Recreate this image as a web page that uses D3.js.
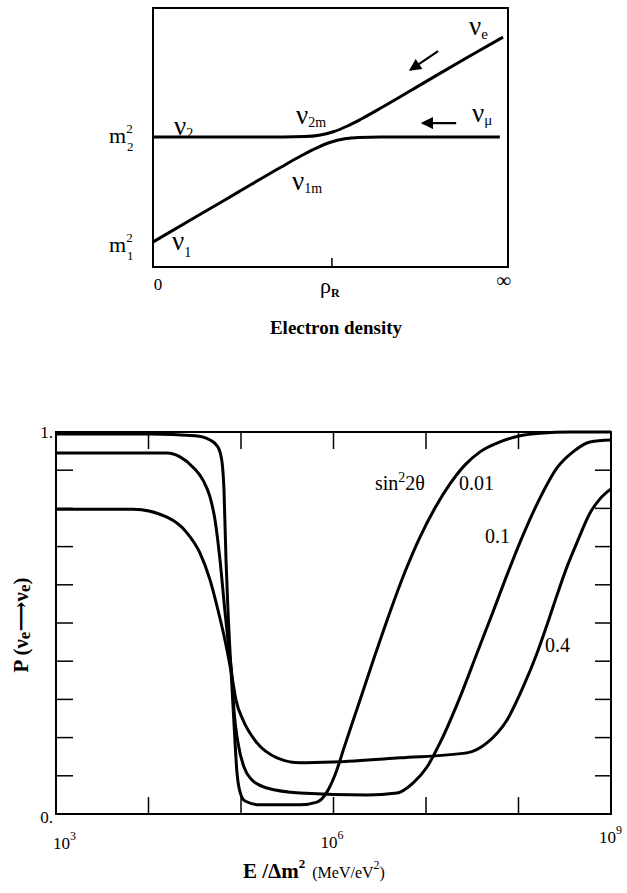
<!DOCTYPE html>
<html><head><meta charset="utf-8">
<script src="https://cdn.jsdelivr.net/npm/d3@7"></script>
<style>
body{margin:0;background:#fff}
svg{display:block}
svg text{font-family:"Liberation Serif","DejaVu Serif",serif;fill:#000}
</style>
</head><body>
<svg id="c" width="627" height="893" font-family="Liberation Serif, DejaVu Serif, serif"></svg>
<script>
// ---------- Top panel: level crossing (schematic) ----------
const densityLower = [0, 0.12, 0.24, 0.36, 0.42, 0.46, 0.50, 0.54, 0.58, 0.64, 0.70, 0.977];
const massLower    = [0, 0.238, 0.475, 0.712, 0.826, 0.895, 0.950, 0.983, 0.996, 1.0, 1.0, 1.0];
const densityUpper = [0, 0.30, 0.368, 0.428, 0.468, 0.508, 0.548, 0.588, 0.648, 0.77, 0.89, 0.986];
const massUpper    = [1.0, 1.0, 1.0, 1.004, 1.017, 1.05, 1.105, 1.174, 1.288, 1.530, 1.767, 1.952];
const densityResonance = 0.504;
const arrowNuE  = {from:[0.803, 1.819], to:[0.724, 1.638]};
const arrowNuMu = {from:[0.854, 1.133], to:[0.758, 1.133]};

// ---------- Bottom panel: survival probability ----------
const mixingLabels = ["0.01", "0.1", "0.4"];
const logE_001 = [3.000,4.016,4.503,4.665,4.751,4.795,4.816,4.838,4.859,4.892,4.924,4.957,4.989,5.043,5.205,5.638,5.822,5.930,6.016,6.124,6.286,6.449,6.611,6.773,6.935,7.097,7.259,7.422,7.584,7.800,8.016,8.232,8.557,9.000];
const P_001    = [0.995,0.995,0.990,0.979,0.961,0.921,0.848,0.665,0.534,0.377,0.238,0.107,0.058,0.034,0.024,0.024,0.031,0.058,0.102,0.181,0.298,0.416,0.529,0.634,0.725,0.801,0.864,0.914,0.948,0.974,0.990,0.997,1.000,1.000];
const logE_01  = [3.000,4.016,4.200,4.341,4.481,4.589,4.665,4.719,4.773,4.827,4.870,4.903,4.924,4.968,5.032,5.119,5.281,5.638,6.362,6.686,6.859,7.011,7.151,7.368,7.551,7.724,7.876,8.049,8.232,8.416,8.589,8.773,9.000];
const P_01     = [0.945,0.945,0.945,0.935,0.908,0.874,0.830,0.770,0.665,0.529,0.429,0.359,0.272,0.186,0.123,0.089,0.068,0.055,0.050,0.055,0.081,0.123,0.186,0.306,0.421,0.529,0.626,0.730,0.827,0.906,0.948,0.974,0.979];
const logE_04  = [3.000,3.832,4.200,4.416,4.557,4.665,4.751,4.838,4.903,4.946,5.022,5.173,5.389,5.638,5.995,6.719,7.443,7.659,7.876,8.049,8.200,8.308,8.416,8.524,8.643,8.773,8.881,9.000];
const P_04     = [0.798,0.798,0.777,0.736,0.683,0.613,0.534,0.442,0.359,0.298,0.246,0.186,0.147,0.134,0.136,0.147,0.160,0.186,0.246,0.332,0.421,0.495,0.573,0.647,0.717,0.788,0.825,0.851];
const xTickExps = [3, 4, 5, 6, 7, 8, 9];
const xLabelExps = [3, 6, 9];
const yTickValues = [0.1,0.2,0.3,0.4,0.5,0.6,0.7,0.8,0.9];
const yTickLabels = [{v:1, t:"1."}, {v:0, t:"0."}];

const svg = d3.select("#c");
svg.append("defs").append("marker")
  .attr("id","ah").attr("viewBox","0 0 10 10").attr("refX",9).attr("refY",5)
  .attr("markerWidth",6.5).attr("markerHeight",5.5).attr("markerUnits","strokeWidth")
  .attr("orient","auto")
  .append("path").attr("d","M0,0 L10,5 L0,10 z").attr("fill","#000");

// ===== TOP PANEL =====
const tx = d3.scaleLinear().domain([0,1]).range([153,508]);
const ty = d3.scaleLinear().domain([-0.238,2.229]).range([267,8]);
const topG = svg.append("g");
topG.append("rect").attr("x",tx(0)).attr("y",ty(2.229)).attr("width",tx(1)-tx(0)).attr("height",ty(-0.238)-ty(2.229))
  .attr("fill","none").attr("stroke","#000").attr("stroke-width",2);
topG.append("line").attr("x1",tx(densityResonance)).attr("x2",tx(densityResonance))
  .attr("y1",ty(-0.238)).attr("y2",ty(-0.238)-9).attr("stroke","#000").attr("stroke-width",1.5);
const tline = d3.line().x(d=>tx(d[0])).y(d=>ty(d[1])).curve(d3.curveMonotoneX);
topG.append("path").attr("d",tline(d3.zip(densityLower,massLower))).attr("fill","none").attr("stroke","#000").attr("stroke-width",3);
topG.append("path").attr("d",tline(d3.zip(densityUpper,massUpper))).attr("fill","none").attr("stroke","#000").attr("stroke-width",3);
[arrowNuE, arrowNuMu].forEach(a=>{
  topG.append("line").attr("x1",tx(a.from[0])).attr("y1",ty(a.from[1]))
    .attr("x2",tx(a.to[0])).attr("y2",ty(a.to[1]))
    .attr("stroke","#000").attr("stroke-width",2.2).attr("marker-end","url(#ah)");
});
function nu(g, x, y, sub, size, subSize, dy){
  const t = g.append("text").attr("x",x).attr("y",y).style("font-size",size+"px");
  t.append("tspan").text("ν");
  t.append("tspan").attr("dy",dy).style("font-size",subSize+"px").text(sub);
}
nu(topG, 469, 35, "e", 27, 15, 4);
nu(topG, 472, 122, "μ", 27, 15, 3);
nu(topG, 174, 135, "2", 27, 14, 3);
nu(topG, 296, 124, "2m", 27, 14, 3);
nu(topG, 292, 190, "1m", 27, 14, 3);
nu(topG, 172, 250, "1", 27, 14, 7);
function msq(g, x, y, sub){
  const t = g.append("text").attr("x",x).attr("y",y).style("font-size","22px");
  t.append("tspan").text("m");
  t.append("tspan").attr("dy",-10).style("font-size","13px").text("2");
  g.append("text").attr("x",x+18).attr("y",y+8).style("font-size","13px").text(sub);
}
msq(topG, 109, 143, "2");
msq(topG, 109, 252, "1");
topG.append("text").attr("x",tx(0)+5).attr("y",290).attr("text-anchor","middle").style("font-size","17px").text("0");
const rho = topG.append("text").attr("x",tx(densityResonance)-12).attr("y",293).style("font-size","22px");
rho.append("tspan").text("ρ");
rho.append("tspan").attr("dy",4).style("font-size","12px").style("font-weight","bold").text("R");
topG.append("text").attr("x",tx(1)-4).attr("y",287).attr("text-anchor","middle").style("font-size","20px").style("font-weight","bold").text("∞");
topG.append("text").attr("x",336).attr("y",334).attr("text-anchor","middle").style("font-size","19px").style("font-weight","bold").text("Electron density");

// ===== BOTTOM PANEL =====
const bx = d3.scaleLog().domain([1e3,1e9]).range([56,611]);
const by = d3.scaleLinear().domain([0,1]).range([814,432]);
const bot = svg.append("g");
bot.append("rect").attr("x",bx(1e3)).attr("y",by(1)).attr("width",bx(1e9)-bx(1e3)).attr("height",by(0)-by(1))
  .attr("fill","none").attr("stroke","#000").attr("stroke-width",2);
xTickExps.slice(1,-1).forEach(e=>{
  const x = bx(Math.pow(10,e));
  bot.append("line").attr("x1",x).attr("x2",x).attr("y1",by(1)).attr("y2",by(1)+17).attr("stroke","#000").attr("stroke-width",1.5);
  bot.append("line").attr("x1",x).attr("x2",x).attr("y1",by(0)).attr("y2",by(0)-17).attr("stroke","#000").attr("stroke-width",1.5);
});
yTickValues.forEach(v=>{
  bot.append("line").attr("x1",bx(1e3)).attr("x2",bx(1e3)+17).attr("y1",by(v)).attr("y2",by(v)).attr("stroke","#000").attr("stroke-width",1.5);
  bot.append("line").attr("x1",bx(1e9)).attr("x2",bx(1e9)-16).attr("y1",by(v)).attr("y2",by(v)).attr("stroke","#000").attr("stroke-width",1.5);
});
const bline = d3.line().x(d=>bx(Math.pow(10,d[0]))).y(d=>by(d[1])).curve(d3.curveMonotoneX);
[[logE_001,P_001],[logE_01,P_01],[logE_04,P_04]].forEach(s=>{
  bot.append("path").attr("d",bline(d3.zip(s[0],s[1]))).attr("fill","none").attr("stroke","#000").attr("stroke-width",3).attr("stroke-linejoin","round");
});
// tick labels
yTickLabels.forEach(d=>{
  bot.append("text").attr("x",bx(1e3)-3).attr("y",by(d.v)+(d.v===1?6:9)).attr("text-anchor","end").style("font-size","17px").text(d.t);
});
const xLabY = {3:849, 6:848, 9:843};
xLabelExps.forEach(e=>{
  const t = bot.append("text").attr("x",bx(Math.pow(10,e))+(e===9?-12:(e===3?-3:-13))).attr("y",xLabY[e]).style("font-size","17px");
  t.append("tspan").text("10");
  t.append("tspan").attr("dy",-9).style("font-size","12px").text(e);
});
// curve labels
const sl = bot.append("text").attr("x",375).attr("y",490).style("font-size","20px");
sl.append("tspan").text("sin");
sl.append("tspan").attr("dy",-8).style("font-size","14px").text("2");
sl.append("tspan").attr("dy",8).text("2θ");
bot.append("text").attr("x",459).attr("y",490).style("font-size","20px").text(mixingLabels[0]);
bot.append("text").attr("x",485).attr("y",543).style("font-size","20px").text(mixingLabels[1]);
bot.append("text").attr("x",545).attr("y",652).style("font-size","20px").text(mixingLabels[2]);
// axis titles
const xt = bot.append("text").attr("x",243).attr("y",878).style("font-weight","bold");
xt.append("tspan").style("font-size","21px").text("E /Δm");
xt.append("tspan").attr("dy",-10).style("font-size","13px").text("2");
xt.append("tspan").attr("dy",10).attr("dx",7).style("font-size","16px").style("font-weight","normal").text("(MeV/eV");
xt.append("tspan").attr("dy",-9).style("font-size","12px").style("font-weight","normal").text("2");
xt.append("tspan").attr("dy",9).style("font-size","16px").style("font-weight","normal").text(")");
const yt = bot.append("text").attr("transform","translate(28,625) rotate(-90)").attr("text-anchor","middle").style("font-size","21px").style("font-weight","bold");
yt.append("tspan").text("P (ν");
yt.append("tspan").attr("dy",2).style("font-size","17px").text("e");
yt.append("tspan").attr("dy",-2).text("⟶ν");
yt.append("tspan").attr("dy",2).style("font-size","17px").text("e");
yt.append("tspan").attr("dy",-2).text(")");
</script>
</body></html>
